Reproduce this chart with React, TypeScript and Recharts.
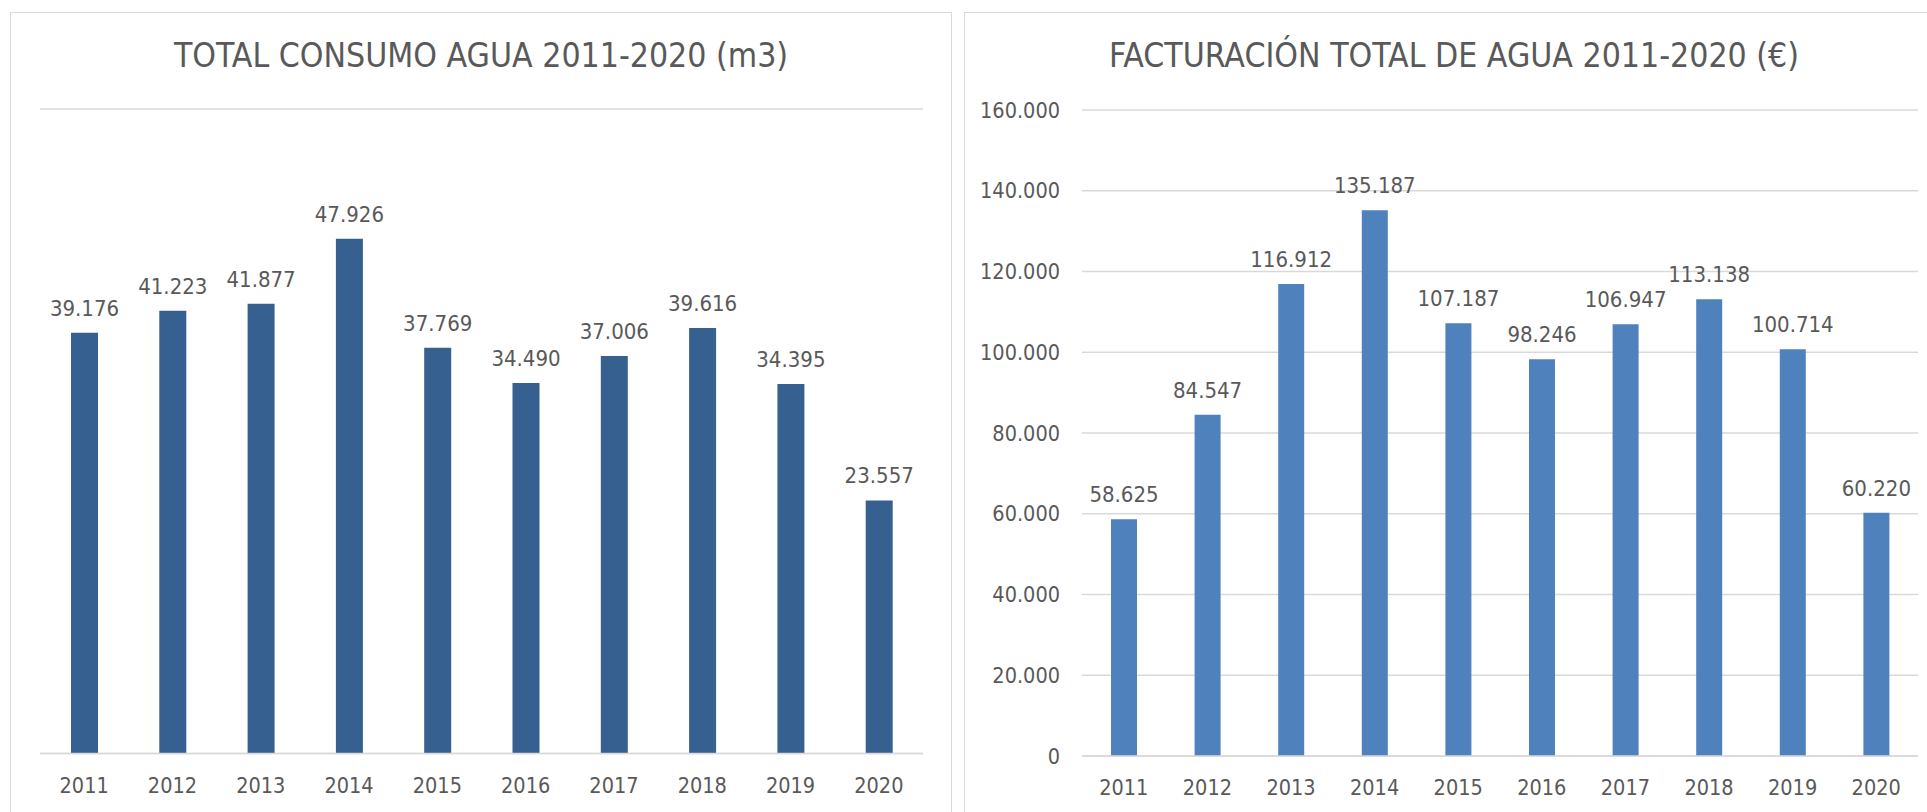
import React from "react";
import { BarChart, Bar, XAxis, YAxis, CartesianGrid, LabelList } from "recharts";

const years = ["2011", "2012", "2013", "2014", "2015", "2016", "2017", "2018", "2019", "2020"];
const consumo = [39176, 41223, 41877, 47926, 37769, 34490, 37006, 39616, 34395, 23557];
const facturacion = [58625, 84547, 116912, 135187, 107187, 98246, 106947, 113138, 100714, 60220];
const consumoTicks = [0, 10000, 20000, 30000, 40000, 50000, 60000];
const facturacionTicks = [0, 20000, 40000, 60000, 80000, 100000, 120000, 140000, 160000];

const FONT = "'Liberation Sans Narrow', 'DejaVu Sans Condensed', 'Open Sans', sans-serif";
const TEXT = "#595959";
const GRID = "#D9D9D9";

// spanish thousands separator: 47926 -> 47.926
function fmt(v: number): string {
  return String(v).replace(/\B(?=(\d{3})+(?!\d))/g, ".");
}

const consumoData = years.map((y, i) => ({ year: y, value: consumo[i] }));
const facturacionData = years.map((y, i) => ({ year: y, value: facturacion[i] }));

function Title({ text, left, width }: { text: string; left: number; width: number }) {
  return (
    <div
      style={{
        position: "absolute",
        left,
        width,
        top: 34,
        height: 44,
        lineHeight: "44px",
        textAlign: "center",
        fontFamily: FONT,
        fontSize: 33.5,
        color: TEXT,
        whiteSpace: "nowrap",
      }}
    >
      {text}
    </div>
  );
}

const tickStyle = { fill: TEXT, fontSize: 21.5, fontFamily: FONT };
const labelStyle = { fill: TEXT, fontSize: 22, fontFamily: FONT };

export default function App() {
  return (
    <div
      style={{
        position: "absolute",
        left: 0,
        top: 0,
        width: 1927,
        height: 812,
        overflow: "hidden",
        background: "#fff",
      }}
    >
      {/* panel frames */}
      <div style={{ position: "absolute", left: 10, top: 12, width: 940, height: 820, border: "1px solid " + GRID }} />
      <div style={{ position: "absolute", left: 964, top: 12, width: 978, height: 820, border: "1px solid " + GRID }} />

      <Title text="TOTAL CONSUMO AGUA 2011-2020 (m3)" left={10} width={942} />
      <Title text="FACTURACIÓN TOTAL DE AGUA 2011-2020 (€)" left={964} width={980} />

      <div style={{ position: "absolute", left: 0, top: 0 }}>
        <BarChart
          width={951}
          height={812}
          data={consumoData}
          margin={{ top: 109, right: 28, left: 40, bottom: 18.5 }}
        >
          <CartesianGrid vertical={false} stroke={GRID} strokeWidth={1.5} />
          <XAxis
            dataKey="year"
            height={40}
            tick={tickStyle}
            tickLine={false}
            tickSize={0}
            tickMargin={24}
            axisLine={{ stroke: GRID, strokeWidth: 1.5 }}
          />
          <YAxis
            width={0}
            domain={[0, 60000]}
            ticks={consumoTicks}
            tick={false}
            axisLine={false}
            tickLine={false}
          />
          <Bar dataKey="value" fill="#36608F" barSize={27} isAnimationActive={false}>
            <LabelList
              dataKey="value"
              position="top"
              offset={17}
              formatter={(v: any) => fmt(Number(v))}
              style={labelStyle}
            />
          </Bar>
        </BarChart>
      </div>

      <div style={{ position: "absolute", left: 964, top: 0 }}>
        <BarChart
          width={963}
          height={812}
          data={facturacionData}
          margin={{ top: 110, right: 9, left: 18, bottom: 16 }}
        >
          <CartesianGrid vertical={false} stroke={GRID} strokeWidth={1.5} />
          <XAxis
            dataKey="year"
            height={40}
            tick={tickStyle}
            tickLine={false}
            tickSize={0}
            tickMargin={24}
            axisLine={{ stroke: GRID, strokeWidth: 1.5 }}
          />
          <YAxis
            width={100}
            domain={[0, 160000]}
            ticks={facturacionTicks}
            tickFormatter={(v: number) => fmt(v)}
            tick={tickStyle}
            axisLine={false}
            tickLine={false}
            tickSize={0}
            tickMargin={22}
          />
          <Bar dataKey="value" fill="#4F81BD" barSize={26} isAnimationActive={false}>
            <LabelList
              dataKey="value"
              position="top"
              offset={17}
              formatter={(v: any) => fmt(Number(v))}
              style={labelStyle}
            />
          </Bar>
        </BarChart>
      </div>
    </div>
  );
}
